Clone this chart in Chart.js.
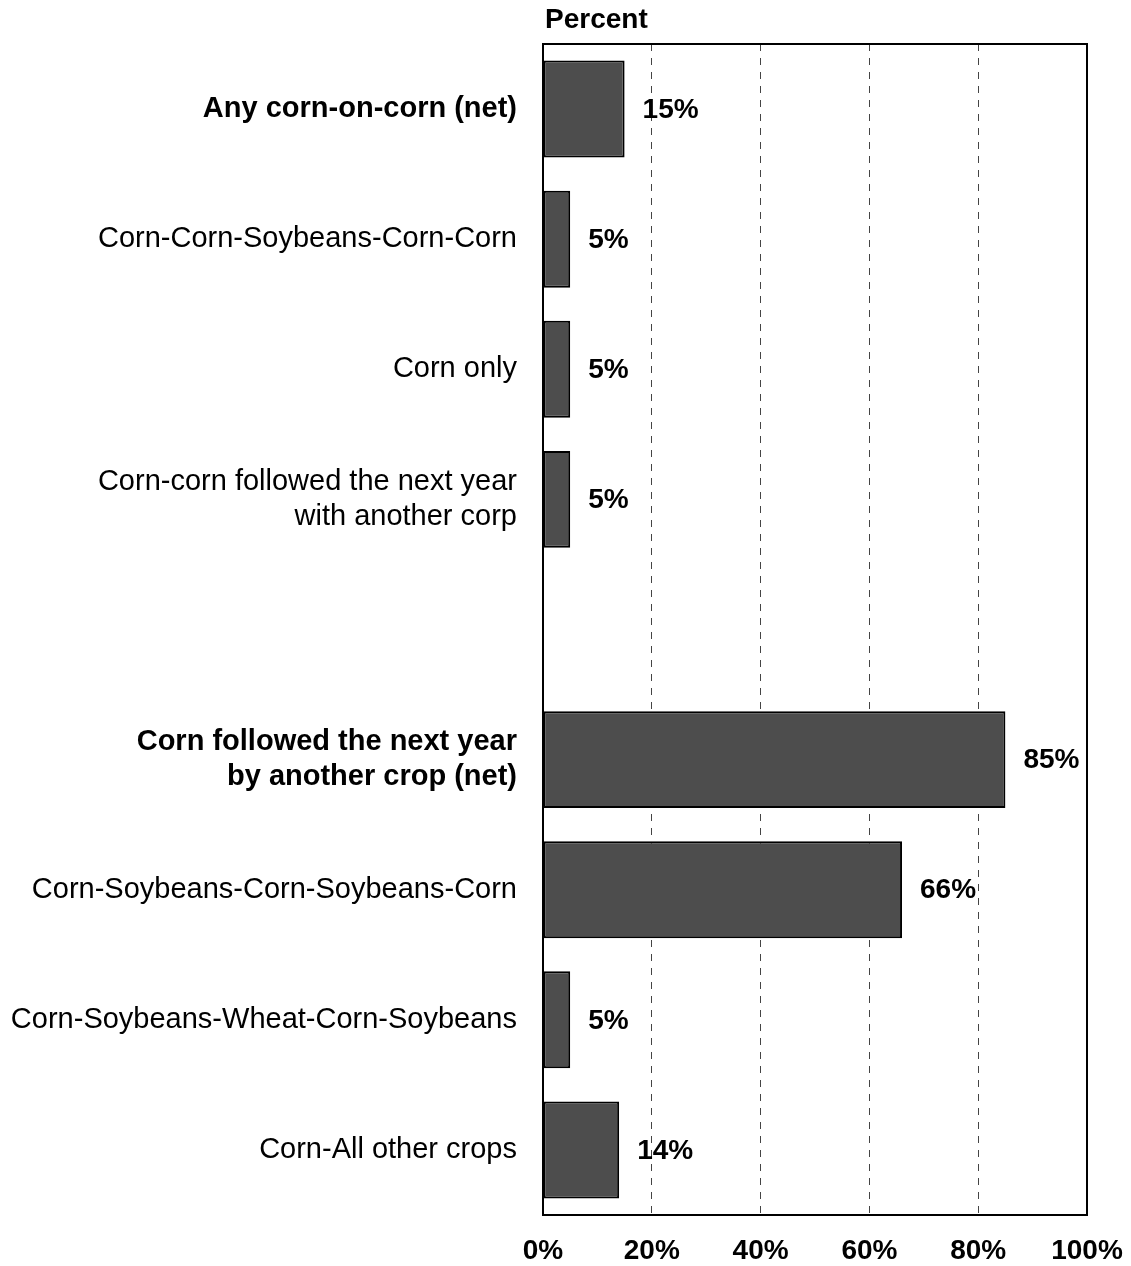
<!DOCTYPE html>
<html>
<head>
<meta charset="utf-8">
<script src="https://cdn.jsdelivr.net/npm/chart.js@4"></script>
<style>
  html, body { margin: 0; padding: 0; background: #fff; }
  #wrap { width: 1131px; height: 1266px; }
</style>
</head>
<body>
<div id="wrap"><canvas id="bar-chart"></canvas></div>
<script>
var categories = [
    "Any corn-on-corn (net)",
    "Corn-Corn-Soybeans-Corn-Corn",
    "Corn only",
    ["Corn-corn followed the next year", "with another corp"],
    "",
    ["Corn followed the next year", "by another crop (net)"],
    "Corn-Soybeans-Corn-Soybeans-Corn",
    "Corn-Soybeans-Wheat-Corn-Soybeans",
    "Corn-All other crops"
];
var isNet = [true, false, false, false, false, true, false, false, false]; // bold rows
var values = [15, 5, 5, 5, null, 85, 66, 5, 14];
var xTicks = [0, 20, 40, 60, 80, 100];
var axisTitle = "Percent";

var fontFamily = "'Liberation Sans', Arial, sans-serif";

// frame around the plot area + "Percent" caption + value labels
var extras = {
    id: "extras",
    beforeDatasetsDraw: function (chart) {
        var ctx = chart.ctx, a = chart.chartArea;
        ctx.save();
        ctx.strokeStyle = "#000";
        ctx.lineWidth = 2;
        ctx.strokeRect(a.left, a.top, a.right - a.left, a.bottom - a.top);
        ctx.fillStyle = "#000";
        ctx.font = "bold 28px " + fontFamily;
        ctx.textAlign = "left";
        ctx.textBaseline = "middle";
        ctx.fillText(axisTitle, a.left + 2, 20);
        ctx.restore();
    },
    afterDatasetsDraw: function (chart) {
        var ctx = chart.ctx;
        var meta = chart.getDatasetMeta(0);
        ctx.save();
        ctx.fillStyle = "#000";
        ctx.font = "bold 28px " + fontFamily;
        ctx.textAlign = "left";
        ctx.textBaseline = "middle";
        meta.data.forEach(function (bar, i) {
            if (values[i] == null) return;
            ctx.fillText(values[i] + "%", bar.x + 18, bar.y + 1);
        });
        ctx.restore();
    }
};

var config = {
    type: "bar",
    data: {
        labels: categories,
        datasets: [{
            data: values,
            backgroundColor: "#4d4d4d",
            borderColor: "#000",
            borderWidth: 2,
            borderSkipped: false,
            categoryPercentage: 1,
            barPercentage: 0.745
        }]
    },
    options: {
        indexAxis: "y",
        responsive: true,
        maintainAspectRatio: false,
        animation: false,
        layout: { padding: { top: 44, right: 44, bottom: 0, left: 0 } },
        plugins: {
            legend: { display: false },
            tooltip: { enabled: false },
            title: { display: false }
        },
        scales: {
            x: {
                min: 0,
                max: 100,
                afterBuildTicks: function (axis) {
                    axis.ticks = xTicks.map(function (v) { return { value: v }; });
                },
                afterFit: function (axis) {
                    axis.height = 51;
                    axis.paddingLeft = 0;
                    axis.paddingRight = 0;
                },
                grid: {
                    drawTicks: false,
                    lineWidth: 1,
                    color: function (c) {
                        var v = c.tick ? c.tick.value : null;
                        return (v === 0 || v === 100) ? "rgba(0,0,0,0)" : "#444";
                    }
                },
                border: { display: false, dash: [7, 7] },
                ticks: {
                    padding: 19,
                    color: "#000",
                    font: { family: fontFamily, size: 28, weight: "bold" },
                    callback: function (v) { return v + "%"; }
                }
            },
            y: {
                afterFit: function (axis) {
                    axis.width = 543;
                    axis.paddingTop = 0;
                    axis.paddingBottom = 0;
                },
                grid: { display: false, drawTicks: false },
                border: { display: false },
                ticks: {
                    padding: 26,
                    color: "#000",
                    font: function (c) {
                        return {
                            family: fontFamily,
                            size: 29,
                            lineHeight: 1.2,
                            weight: isNet[c.index] ? "bold" : "normal"
                        };
                    }
                }
            }
        }
    },
    plugins: [extras]
};

var barChart = new Chart(document.getElementById("bar-chart"), config);
</script>
</body>
</html>
